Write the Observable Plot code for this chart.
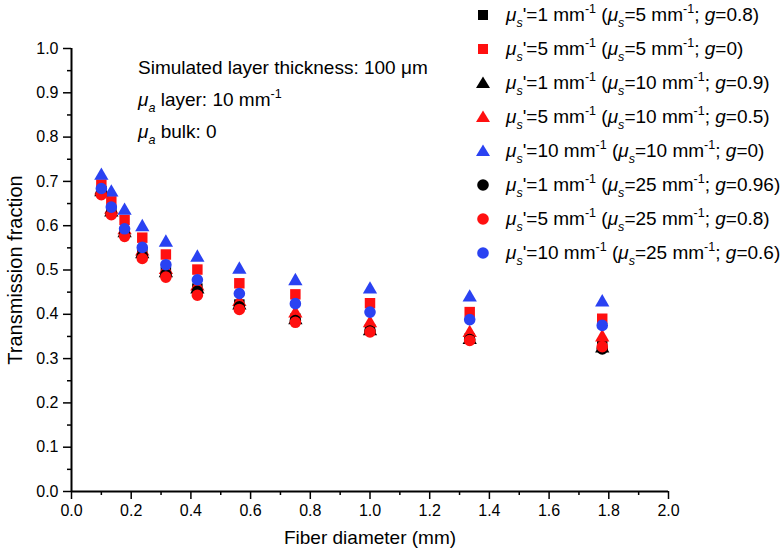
<!DOCTYPE html>
<html><head><meta charset="utf-8">
<script src="https://cdn.jsdelivr.net/npm/d3@7"></script>
<script src="https://cdn.jsdelivr.net/npm/@observablehq/plot@0.6"></script>
<style>
body{margin:0;background:#fff;font-family:"Liberation Sans",Arial,sans-serif;color:#000;}
#wrap{position:relative;width:780px;height:559px;}
.ann{position:absolute;left:138px;font-size:19px;white-space:nowrap;line-height:32px;}
.sub{font-size:0.66em;position:relative;top:0.5em;}
.sup{font-size:0.66em;position:relative;top:-0.6em;}
.row{position:absolute;left:472px;height:34px;display:flex;align-items:center;font-size:19px;white-space:nowrap;}
.row svg{width:22px;height:22px;margin-right:12px;}
</style></head>
<body><div id="wrap"></div>
<script>
// Fiber diameters (mm)
const diam = [0.1, 0.1334, 0.1778, 0.2371, 0.3162, 0.4217, 0.5623, 0.75, 1.0, 1.334, 1.778];
// Transmission fraction per series
const s1 = [0.678, 0.632, 0.585, 0.538, 0.495, 0.458, 0.422, 0.390, 0.366, 0.345, 0.328]; // mus'=1 (mus=5, g=0.8)
const s2 = [0.693, 0.655, 0.613, 0.573, 0.535, 0.501, 0.470, 0.445, 0.425, 0.405, 0.390]; // mus'=5 (mus=5, g=0)
const s3 = [0.676, 0.630, 0.583, 0.536, 0.493, 0.456, 0.420, 0.387, 0.362, 0.342, 0.323]; // mus'=1 (mus=10, g=0.9)
const s4 = [0.680, 0.636, 0.590, 0.542, 0.500, 0.463, 0.428, 0.402, 0.380, 0.358, 0.348]; // mus'=5 (mus=10, g=0.5)
const s5 = [0.713, 0.675, 0.634, 0.597, 0.562, 0.528, 0.501, 0.475, 0.456, 0.438, 0.427]; // mus'=10 (mus=10, g=0)
const s6 = [0.674, 0.628, 0.580, 0.532, 0.490, 0.452, 0.417, 0.386, 0.362, 0.343, 0.322]; // mus'=1 (mus=25, g=0.96)
const s7 = [0.670, 0.625, 0.576, 0.526, 0.484, 0.443, 0.411, 0.382, 0.360, 0.341, 0.327]; // mus'=5 (mus=25, g=0.8)
const s8 = [0.684, 0.642, 0.593, 0.551, 0.512, 0.478, 0.447, 0.424, 0.405, 0.388, 0.375]; // mus'=10 (mus=25, g=0.6)
const seriesValues = [s1, s2, s3, s4, s5, s6, s7, s8];
const musPrime = ["1", "5", "1", "5", "10", "1", "5", "10"];
const musVal = ["5", "5", "10", "10", "10", "25", "25", "25"];
const gVal = ["0.8", "0", "0.9", "0.5", "0", "0.96", "0.8", "0.6"];
const seriesSymbol = ["square", "square", "triangle", "triangle", "triangle", "circle", "circle", "circle"];
const seriesColor = ["#000000", "#ff1010", "#000000", "#ff1010", "#2a42f2", "#000000", "#ff1010", "#2a42f2"];
// ticks
const xMajor = [0, 0.2, 0.4, 0.6, 0.8, 1.0, 1.2, 1.4, 1.6, 1.8, 2.0];
const xMinor = [0.1, 0.3, 0.5, 0.7, 0.9, 1.1, 1.3, 1.5, 1.7, 1.9];
const yMajor = [0, 0.1, 0.2, 0.3, 0.4, 0.5, 0.6, 0.7, 0.8, 0.9, 1.0];
const yMinor = [0.05, 0.15, 0.25, 0.35, 0.45, 0.55, 0.65, 0.75, 0.85, 0.95];
const xTitle = "Fiber diameter (mm)";
const yTitle = "Transmission fraction";

const symR = {square: 5.9, triangle: 5.3, circle: 5.8};

const dotMarks = seriesValues.map((vals, k) =>
  Plot.dot(diam.map((d, i) => ({x: d, y: vals[i]})), {
    x: "x", y: "y", symbol: () => seriesSymbol[k], fill: seriesColor[k], stroke: "none", r: symR[seriesSymbol[k]]
  })
);

const chart = Plot.plot({
  width: 780, height: 559,
  marginLeft: 71, marginRight: 112, marginTop: 48, marginBottom: 68,
  x: {domain: [0, 2], label: null},
  y: {domain: [0, 1], label: null},
  symbol: {type: "identity"},
  style: {fontFamily: "'Liberation Sans', Arial, sans-serif", fontSize: "16px", color: "#000", background: "#fff", overflow: "visible"},
  marks: [
    Plot.axisX({ticks: xMinor, tickSize: 4, tickFormat: () => "", strokeWidth: 1.5}),
    Plot.axisX({ticks: xMajor, tickSize: 8, tickPadding: 5, tickFormat: d3.format(".1f"), strokeWidth: 1.5, fontSize: 16}),
    Plot.axisY({ticks: yMinor, tickSize: 4, tickFormat: () => "", strokeWidth: 1.5}),
    Plot.axisY({ticks: yMajor, tickSize: 8, tickPadding: 5, tickFormat: d3.format(".1f"), strokeWidth: 1.5, fontSize: 16}),
    Plot.ruleX([0], {strokeWidth: 2}),
    Plot.ruleY([0], {strokeWidth: 2}),
    Plot.text([xTitle], {frameAnchor: "bottom", dy: 46, textAnchor: "middle", lineAnchor: "middle", fontSize: 19}),
    Plot.text([yTitle], {frameAnchor: "left", dx: -56, rotate: -90, textAnchor: "middle", lineAnchor: "middle", fontSize: 20}),
    ...dotMarks
  ]
});
const wrap = document.getElementById("wrap");
wrap.appendChild(chart);

// annotation
const annLines = [
  'Simulated layer thickness: 100 \u03bcm',
  '<i>\u03bc</i><span class="sub"><i>a</i></span> layer: 10 mm<span class="sup">-1</span>',
  '<i>\u03bc</i><span class="sub"><i>a</i></span> bulk: 0'
];
annLines.forEach((h, i) => {
  const d = document.createElement("div");
  d.className = "ann";
  d.style.top = (52 + 32 * i) + "px";
  d.innerHTML = h;
  wrap.appendChild(d);
});

// legend
function symSvg(sym, col) {
  let shape;
  if (sym === "square") shape = `<rect x="6" y="6" width="10" height="10" fill="${col}"/>`;
  else if (sym === "triangle") shape = `<path d="M11,4.5 L18,16 L4,16 Z" fill="${col}"/>`;
  else shape = `<circle cx="11" cy="11" r="5.8" fill="${col}"/>`;
  return `<svg viewBox="0 0 22 22">${shape}</svg>`;
}
seriesValues.forEach((_, k) => {
  const d = document.createElement("div");
  d.className = "row";
  d.style.top = (-2 + 34 * k) + "px";
  d.innerHTML = symSvg(seriesSymbol[k], seriesColor[k]) +
    `<span><i>\u03bc</i><span class="sub"><i>s</i></span>'=${musPrime[k]} mm<span class="sup">-1</span> (<i>\u03bc</i><span class="sub"><i>s</i></span>=${musVal[k]} mm<span class="sup">-1</span>; <i>g</i>=${gVal[k]})</span>`;
  wrap.appendChild(d);
});
</script>
</body></html>
